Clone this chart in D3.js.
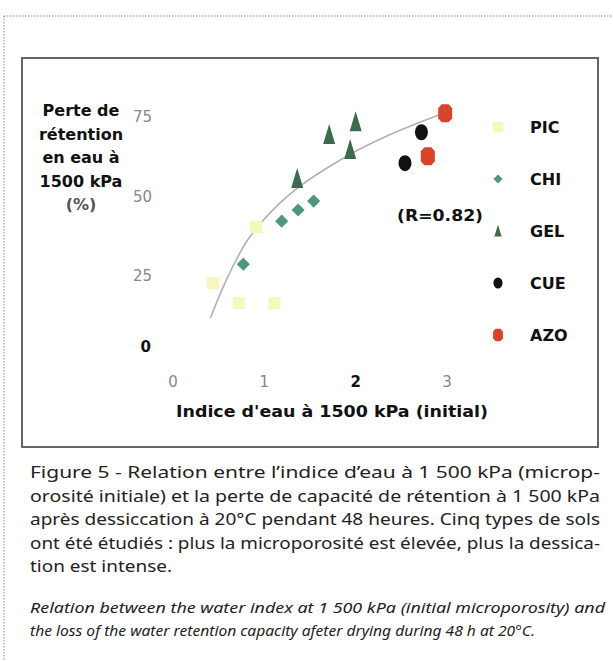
<!DOCTYPE html>
<html><head><meta charset="utf-8">
<script src="https://cdn.jsdelivr.net/npm/d3@7/dist/d3.min.js"></script>
<style>body{margin:0;background:#fff}svg{display:block}</style>
</head><body>
<svg id="c" width="613" height="661"></svg>
<script>
const series = ["PIC","CHI","GEL","CUE","AZO"];
const picX = [0.44, 0.72, 1.11, 0.91];
const picY = [22.6, 16.3, 16.3, 40.1];
const chiX = [0.77, 1.19, 1.37, 1.54];
const chiY = [28.5, 42.0, 45.5, 48.3];
const gelX = [1.36, 1.71, 2.00, 1.94];
const gelY = [55.2, 69.0, 73.0, 64.3];
const cueX = [2.72, 2.54];
const cueY = [69.9, 60.2];
const azoX = [2.98, 2.79];
const azoY = [75.9, 62.4];
const curveX = [0.41, 0.60, 0.84, 1.28, 1.94, 2.41, 2.96];
const curveY = [11.6, 24.5, 37.0, 50.5, 63.0, 69.6, 75.9];
const xTicks = [0, 1, 2, 3];
const yTicks = [0, 25, 50, 75];
const rLabel = "(R=0.82)";
const yTitle = ["Perte de", "rétention", "en eau à", "1500 kPa", "(%)"];
const xTitle = "Indice d'eau à 1500 kPa (initial)";
const captionFr = [
 "Figure 5 -  Relation entre l’indice d’eau à 1 500 kPa (microp-",
 "orosité initiale) et la perte de capacité de rétention à 1 500 kPa",
 "après dessiccation à 20°C pendant 48 heures. Cinq types de sols",
 "ont été étudiés : plus la microporosité est élevée, plus la dessica-",
 "tion  est intense."];
const captionEn = [
 "Relation between the water index at 1 500 kPa (initial microporosity) and",
 "the loss of the water retention capacity afeter drying during 48 h at 20°C."];

const svg = d3.select("#c");
const x = d3.scaleLinear().domain([0,3]).range([173,447]);
const y = d3.scaleLinear().domain([0,75]).range([355,116]);
const bold = "DejaVu Sans, Verdana, sans-serif";

// dotted page border
svg.append("line").attr("x1",4).attr("x2",613).attr("y1",16).attr("y2",16)
  .attr("stroke","#888").attr("stroke-width",1).attr("stroke-dasharray","1.5,1.5");
svg.append("line").attr("x1",4).attr("x2",4).attr("y1",16).attr("y2",661)
  .attr("stroke","#888").attr("stroke-width",1).attr("stroke-dasharray","1.5,1.5");
// frame
svg.append("rect").attr("x",22).attr("y",58).attr("width",576).attr("height",389)
  .attr("fill","none").attr("stroke","#555").attr("stroke-width",1.8);

// y title
svg.append("g").selectAll("text").data(yTitle).join("text")
  .attr("x",81).attr("y",(d,i)=>116+i*23.5).attr("text-anchor","middle")
  .attr("font-family",bold).attr("font-weight","bold").attr("font-size",16)
  .attr("fill",(d,i)=>i===4?"#555":"#111").text(d=>d);

// y ticks
svg.append("g").selectAll("text").data(yTicks).join("text")
  .attr("x",d=>d===0?151:152).attr("y",d=>y(d)+(d===0?-3:6)).attr("text-anchor","end")
  .attr("font-family",bold).attr("font-size",15)
  .attr("font-weight",d=>d===0?"bold":"normal")
  .attr("fill",d=>d===0?"#111":"#888").text(d=>d);
// x ticks
svg.append("g").selectAll("text").data(xTicks).join("text")
  .attr("x",d=>x(d)).attr("y",387).attr("text-anchor","middle")
  .attr("font-family",bold).attr("font-size",15)
  .attr("font-weight",d=>d===2?"bold":"normal")
  .attr("fill",d=>d===2?"#111":"#888").text(d=>d);
svg.append("text").attr("x",332).attr("y",417).attr("text-anchor","middle")
  .attr("font-family",bold).attr("font-weight","bold").attr("font-size",16)
  .attr("textLength",312).attr("lengthAdjust","spacingAndGlyphs")
  .attr("fill","#111").text(xTitle);

// curve
const cpts = curveX.map((v,i)=>[x(v),y(curveY[i])]);
svg.append("path").attr("d",d3.line().curve(d3.curveCatmullRom)(cpts))
  .attr("fill","none").attr("stroke","#b0b0b0").attr("stroke-width",1.6);

const zip = (a,b)=>a.map((v,i)=>[v,b[i]]);
const styles = {
  PIC:{fill:"#f5f7bd", draw:g=>g.append("rect").attr("x",-6).attr("y",-6).attr("width",12).attr("height",12)},
  CHI:{fill:"#4f9681", draw:g=>g.append("path").attr("d",d3.symbol(d3.symbolDiamond2,110)())},
  GEL:{fill:"#3b6b4c", draw:g=>g.append("path").attr("d","M0,-11L6,9L-6,9Z")},
  CUE:{fill:"#111", draw:g=>g.append("ellipse").attr("rx",6.5).attr("ry",8)},
  AZO:{fill:"#d8432c", draw:g=>g.append("path").attr("d","M-3.5,-9L3.5,-9L7,-5L7,5L3.5,9L-3.5,9L-7,5L-7,-5Z")}
};
const data = {PIC:zip(picX,picY),CHI:zip(chiX,chiY),GEL:zip(gelX,gelY),CUE:zip(cueX,cueY),AZO:zip(azoX,azoY)};
series.forEach(s=>{
  data[s].forEach(p=>{
    const g = svg.append("g").attr("transform",`translate(${x(p[0])},${y(p[1])})`).attr("fill",styles[s].fill);
    styles[s].draw(g);
  });
});

// legend
const ly = d3.scalePoint().domain(series).range([127,335]);
series.forEach(s=>{
  const g = svg.append("g").attr("transform",`translate(498,${ly(s)})`).attr("fill",styles[s].fill);
  const m = styles[s].draw(g);
  if(s==="GEL") m.attr("transform","scale(0.6)");
  else if(s==="PIC") m.attr("transform","scale(0.9)");
  else m.attr("transform","scale(0.7)");
  svg.append("text").attr("x",530).attr("y",ly(s)+6).attr("font-family",bold).attr("font-weight","bold")
    .attr("font-size",16).attr("fill","#111").text(s);
});

svg.append("text").attr("x",397).attr("y",221).attr("font-family",bold).attr("font-weight","bold")
  .attr("font-size",16).attr("textLength",86).attr("lengthAdjust","spacingAndGlyphs")
  .attr("fill","#111").text(rLabel);

// captions
svg.append("g").selectAll("text").data(captionFr).join("text")
  .attr("x",30).attr("y",(d,i)=>478+i*23.5)
  .attr("font-family","Noto Sans, Open Sans, sans-serif").attr("font-size",16).attr("fill","#222")
  .each(function(d,i){ d3.select(this).attr("textLength",i<4?570:142).attr("lengthAdjust","spacingAndGlyphs"); })
  .text(d=>d);
svg.append("g").selectAll("text").data(captionEn).join("text")
  .attr("x",30).attr("y",(d,i)=>613+i*23)
  .attr("font-family","Noto Sans, Open Sans, sans-serif").attr("font-style","italic").attr("font-size",15).attr("fill","#222")
  .each(function(d,i){ d3.select(this).attr("textLength",i===0?575:505).attr("lengthAdjust","spacingAndGlyphs"); })
  .text(d=>d);
</script>
</body></html>
